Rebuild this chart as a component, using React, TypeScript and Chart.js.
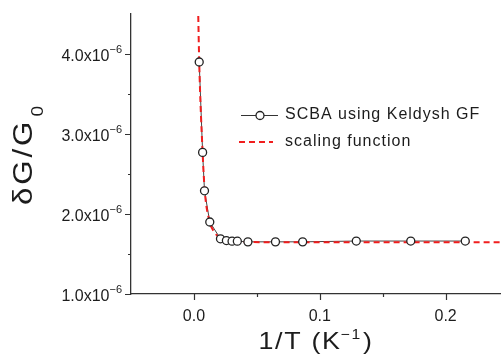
import React, { useEffect, useRef } from "react";
import { Chart, registerables } from "chart.js";

Chart.register(...registerables);

// ---------------- data ----------------
const SCBA_X = [0.0042, 0.0069, 0.0084, 0.0126, 0.0211, 0.0258, 0.0303, 0.0345, 0.0429, 0.0648, 0.0864, 0.129, 0.1723, 0.2156];
const SCBA_Y = [3.9e-6, 2.77e-6, 2.29e-6, 1.9e-6, 1.69e-6, 1.668e-6, 1.66e-6, 1.66e-6, 1.652e-6, 1.652e-6, 1.652e-6, 1.662e-6, 1.662e-6, 1.662e-6];

const SCALING_X = [0.0033, 0.0042, 0.0069, 0.0086, 0.0126, 0.016, 0.021, 0.03, 0.04, 0.1, 0.244];
const SCALING_Y = [4.6e-6, 3.9e-6, 2.77e-6, 2.29e-6, 1.9e-6, 1.78e-6, 1.7e-6, 1.662e-6, 1.65e-6, 1.646e-6, 1.646e-6];

const SERIES_LABELS = ["SCBA using Keldysh GF", "scaling function"];

const X_MAJOR = [0, 0.1, 0.2];
const X_MINOR = [0.05, 0.15];
const Y_MAJOR = [1e-6, 2e-6, 3e-6, 4e-6];
const Y_MINOR = [1.5e-6, 2.5e-6, 3.5e-6];
const Y_TICK_EXP = "\u22126";

const X_MIN = -0.05;
const X_MAX = 0.244;
const Y_MIN = 1e-6;
const Y_MAX = 4.5e-6;

const X_TITLE = { main: "1/T (K", sup: "\u22121", tail: ")" };
const Y_TITLE = { main: "\u03B4G/G", sub: "0" };

// ---------------- styles ----------------
const FONT = "'Liberation Sans', Arial, Helvetica, sans-serif";
const TEXT = "#1c1c1c";
const AXIS = "#333333";
const RED = "rgb(240, 30, 30)";

export default function App() {
  const ref = useRef<HTMLCanvasElement>(null);

  useEffect(() => {
    const canvas = ref.current;
    if (!canvas) return;

    const scbaPts = SCBA_X.map((x, i) => ({ x, y: SCBA_Y[i] }));
    const scalingPts = SCALING_X.map((x, i) => ({ x, y: SCALING_Y[i] }));

    const ticksPlugin = {
      id: "axisTicks",
      afterDraw(chart: any) {
        const ctx = chart.ctx as CanvasRenderingContext2D;
        const xs = chart.scales.x;
        const ys = chart.scales.y;
        const a = chart.chartArea;
        ctx.save();
        ctx.strokeStyle = AXIS;
        ctx.lineWidth = 1.2;
        ctx.beginPath();
        X_MAJOR.forEach((v) => {
          const p = Math.round(xs.getPixelForValue(v)) + 0.5;
          ctx.moveTo(p, a.bottom);
          ctx.lineTo(p, a.bottom + 6);
        });
        X_MINOR.forEach((v) => {
          const p = Math.round(xs.getPixelForValue(v)) + 0.5;
          ctx.moveTo(p, a.bottom);
          ctx.lineTo(p, a.bottom + 3);
        });
        Y_MAJOR.forEach((v) => {
          const p = Math.round(ys.getPixelForValue(v)) + 0.5;
          ctx.moveTo(a.left, p);
          ctx.lineTo(a.left - 6, p);
        });
        Y_MINOR.forEach((v) => {
          const p = Math.round(ys.getPixelForValue(v)) + 0.5;
          ctx.moveTo(a.left, p);
          ctx.lineTo(a.left - 3, p);
        });
        ctx.stroke();

        // y tick labels with a real superscript exponent
        ctx.fillStyle = TEXT;
        ctx.textBaseline = "alphabetic";
        ctx.textAlign = "right";
        const right = a.left - 9;
        Y_MAJOR.forEach((v) => {
          const p = ys.getPixelForValue(v);
          ctx.font = `11px ${FONT}`;
          const supW = ctx.measureText(Y_TICK_EXP).width;
          ctx.fillText(Y_TICK_EXP, right, p - 1);
          ctx.font = `16px ${FONT}`;
          ctx.fillText((v * 1e6).toFixed(1) + "x10", right - supW, p + 6.5);
        });
        ctx.restore();
      },
    };

    const decorPlugin = {
      id: "decor",
      afterDraw(chart: any) {
        const ctx = chart.ctx as any;
        const a = chart.chartArea;
        ctx.save();
        ctx.fillStyle = TEXT;
        ctx.textBaseline = "alphabetic";
        ctx.textAlign = "left";

        // ---- x title ----
        {
          const sx = 1.12;
          ctx.save();
          ctx.letterSpacing = "1.5px";
          ctx.font = `24px ${FONT}`;
          const w1 = ctx.measureText(X_TITLE.main).width;
          ctx.font = `14px ${FONT}`;
          const w2 = ctx.measureText(X_TITLE.sup).width;
          ctx.font = `24px ${FONT}`;
          const w3 = ctx.measureText(X_TITLE.tail).width;
          const total = (w1 + w2 + w3) * sx;
          const cx = (a.left + a.right) / 2;
          ctx.translate(cx - total / 2, 349);
          ctx.scale(sx, 1);
          ctx.font = `24px ${FONT}`;
          ctx.fillText(X_TITLE.main, 0, 0);
          ctx.font = `14px ${FONT}`;
          ctx.fillText(X_TITLE.sup, w1 - 1, -10);
          ctx.font = `24px ${FONT}`;
          ctx.fillText(X_TITLE.tail, w1 + w2, 0);
          ctx.restore();
        }

        // ---- y title ----
        {
          const sx = 1.12;
          ctx.save();
          ctx.letterSpacing = "2.5px";
          ctx.font = `28px ${FONT}`;
          const w1 = ctx.measureText(Y_TITLE.main).width;
          ctx.font = `17px ${FONT}`;
          const w2 = ctx.measureText(Y_TITLE.sub).width;
          const total = (w1 + 2 + w2) * sx;
          const cy = (a.top + a.bottom) / 2;
          ctx.translate(32, cy);
          ctx.rotate(-Math.PI / 2);
          ctx.translate(-total / 2, 0);
          ctx.scale(sx, 1);
          ctx.font = `28px ${FONT}`;
          ctx.fillText(Y_TITLE.main, 0, 0);
          ctx.font = `17px ${FONT}`;
          ctx.fillText(Y_TITLE.sub, w1 + 2, 11);
          ctx.restore();
        }

        // ---- legend ----
        {
          const r1 = 115;
          const r2 = 142;
          ctx.save();
          ctx.strokeStyle = "#333";
          ctx.lineWidth = 1.2;
          ctx.beginPath();
          ctx.moveTo(241, r1 + 0.5);
          ctx.lineTo(278, r1 + 0.5);
          ctx.stroke();
          ctx.beginPath();
          ctx.arc(260, r1 + 0.5, 4, 0, Math.PI * 2);
          ctx.fillStyle = "#fff";
          ctx.fill();
          ctx.lineWidth = 1.3;
          ctx.strokeStyle = "#222";
          ctx.stroke();

          ctx.strokeStyle = RED;
          ctx.lineWidth = 2;
          ctx.setLineDash([6, 4]);
          ctx.beginPath();
          ctx.moveTo(239, r2);
          ctx.lineTo(273, r2);
          ctx.stroke();
          ctx.setLineDash([]);

          ctx.fillStyle = TEXT;
          ctx.font = `16px ${FONT}`;
          ctx.letterSpacing = "1px";
          ctx.textBaseline = "middle";
          ctx.fillText(chart.data.datasets[0].label, 285, r1);
          ctx.fillText(chart.data.datasets[1].label, 285, r2);
          ctx.restore();
        }
        ctx.restore();
      },
    };

    const chart = new Chart(canvas, {
      type: "line",
      data: {
        datasets: [
          {
            label: SERIES_LABELS[0],
            data: scbaPts,
            showLine: false,
            pointRadius: 4,
            pointBorderWidth: 1.3,
            pointBackgroundColor: "#ffffff",
            pointBorderColor: "#222222",
            order: 0,
          },
          {
            label: SERIES_LABELS[1],
            data: scalingPts,
            borderColor: RED,
            borderWidth: 2,
            borderDash: [6, 4],
            pointRadius: 0,
            cubicInterpolationMode: "monotone",
            fill: false,
            order: 1,
          },
          {
            label: SERIES_LABELS[0] + " (line)",
            data: scbaPts,
            borderColor: "#444444",
            borderWidth: 1,
            pointRadius: 0,
            fill: false,
            order: 2,
          },
        ],
      } as any,
      options: {
        animation: false,
        responsive: false,
        events: [],
        layout: { autoPadding: false, padding: { top: 14, right: 0, left: 0, bottom: 0 } },
        plugins: {
          legend: { display: false },
          tooltip: { enabled: false },
          title: { display: false },
        },
        scales: {
          x: {
            type: "linear",
            min: X_MIN,
            max: X_MAX,
            grid: { display: false, drawTicks: false },
            border: { display: true, color: AXIS, width: 1.3 },
            ticks: {
              padding: 13,
              color: TEXT,
              autoSkip: false,
              maxRotation: 0,
              font: { size: 16, family: FONT },
              callback: (v: any) => Number(v).toFixed(1),
            },
            afterBuildTicks: (s: any) => {
              s.ticks = X_MAJOR.map((value) => ({ value }));
            },
            afterFit: (s: any) => {
              s.height = 66;
              s.paddingLeft = 0;
              s.paddingRight = 0;
            },
          },
          y: {
            type: "linear",
            min: Y_MIN,
            max: Y_MAX,
            grid: { display: false, drawTicks: false },
            border: { display: true, color: AXIS, width: 1.3 },
            ticks: { display: false },
            afterBuildTicks: (s: any) => {
              s.ticks = Y_MAJOR.map((value) => ({ value }));
            },
            afterFit: (s: any) => {
              s.width = 131;
              s.paddingTop = 0;
              s.paddingBottom = 0;
            },
          },
        },
      } as any,
      plugins: [ticksPlugin, decorPlugin],
    });

    return () => {
      chart.destroy();
    };
  }, []);

  return (
    <div style={{ position: "fixed", left: 0, top: 0, width: 501, height: 360, background: "#fff" }}>
      <canvas ref={ref} width={501} height={360} style={{ display: "block", width: 501, height: 360 }} />
    </div>
  );
}
